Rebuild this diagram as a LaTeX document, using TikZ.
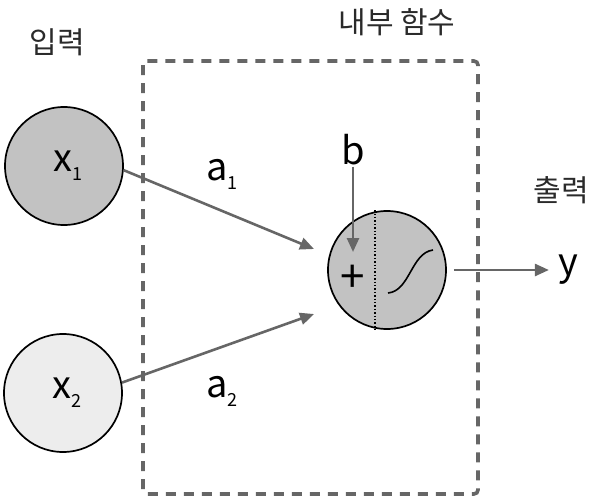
\documentclass[tikz,border=0pt]{standalone}
\usepackage{fontspec}
\setmainfont{Noto Sans CJK KR}
\usetikzlibrary{arrows.meta}
\definecolor{linegray}{HTML}{666666}
\definecolor{darkfill}{HTML}{C2C2C2}
\definecolor{lightfill}{HTML}{EDEDED}
\definecolor{textgray}{HTML}{2A2A2A}
\newcommand{\sub}[1]{\raisebox{-9pt}{\fontsize{18}{18}\selectfont #1}}
\tikzset{
    neuron/.style={circle, draw=black, line width=1.7pt, minimum size=118pt, inner sep=0pt},
    conn/.style={linegray, line width=2.6pt, -{Triangle[length=14pt,width=12pt]}},
    title/.style={text=textgray, font=\fontsize{30}{34}\selectfont},
    sym/.style={text=black, font=\fontsize{38}{40}\selectfont, inner sep=1pt}
}
\begin{document}
\begin{tikzpicture}[x=1pt, y=-1pt]
    \useasboundingbox (0,0) rectangle (600,498);
    % frame of the inner function
    \draw [linegray, line width=3.6pt, dash pattern=on 10pt off 8pt, rounded corners=4pt] (143,61) rectangle (478,494);
    \node [title] (inlabel) at (57,42) {입력};
    \node [title] (funlabel) at (397,22) {내부 함수};
    \node [title] (outlabel) at (561,190) {출력};
    % inputs
    \node [neuron, fill=darkfill] (xa) at (64,166) {};
    \node [sym] at ([xshift=4pt]xa.center) {x\sub{1}};
    \node [neuron, fill=lightfill] (xb) at (63,393) {};
    \node [sym] at ([xshift=4pt]xb.center) {x\sub{2}};
    % neuron
    \node [neuron, fill=darkfill] (sum) at (387,270) {};
    \draw [dotted, line width=1.4pt] ([xshift=-12pt]sum.north) -- ([xshift=-12pt]sum.south);
    \node [sym, font=\fontsize{44}{44}\selectfont] (plus) at (353,279) {+};
    \draw [line width=1.6pt] ([shift={(1,23)}]sum.center) .. controls +(22,-2) and +(-22,3) .. ([shift={(46,-20)}]sum.center);
    % weights
    \coordinate (ina) at (314,249);
    \coordinate (inb) at (314,314);
    \draw [conn] (xa.-4) -- (ina);
    \draw [conn] (xb.10) -- (inb);
    \node [sym] (wa) at (222,174) {a\sub{1}};
    \node [sym] (wb) at (222,391) {a\sub{2}};
    % bias
    \node [sym] (bias) at (353,150) {b};
    \coordinate (inbias) at (353,252);
    \draw [conn] (bias.south) -- (inbias);
    % output
    \node [sym] (out) at (568,270) {y};
    \draw [conn] ([xshift=7pt]sum.east) -- ([xshift=-8pt]out.west);
\end{tikzpicture}
\end{document}
